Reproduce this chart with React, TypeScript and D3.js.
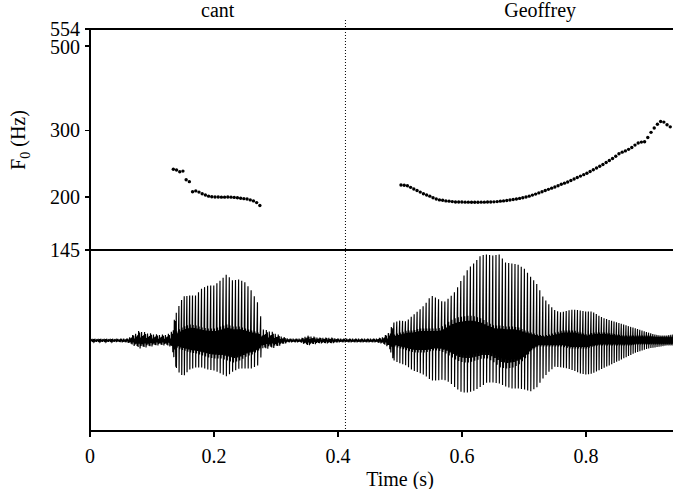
import React from 'react';
import * as d3 from 'd3';

// ---------- data ----------
const F0_TICKS = [145, 200, 300, 500, 554];
const TIME_TICKS = [0, 0.2, 0.4, 0.6, 0.8];
const TOTAL_DUR = 1.04;
const WORD_LABELS = ['cant', 'Geoffrey'];
const WORD_BOUNDS = [0, 0.412, 1.04];

const PITCH_STEP = 0.00517;
const CANT_F0_START = 0.1344;
const CANT_F0 = [236.6, 235.5, 233, 234, 222, 219.5, 206.5, 207.5, 206, 204, 202.5, 201, 200.3, 200, 200, 199.8, 199.8, 200, 199.8, 199.5, 199, 198.5, 198, 197.5, 196.5, 195.3, 193.3, 190];
const GEOFF_F0_START = 0.5016;
const GEOFF_F0 = [
  215, 214.7, 214, 212, 210, 208, 206, 204, 202.5, 201,
  199, 197.6, 196.5, 196, 195.3, 195, 194.5, 194, 194, 194,
  193.8, 193.8, 193.7, 193.7, 193.7, 193.8, 193.8, 194, 194, 194.2,
  194.5, 195, 195.3, 195.8, 196.3, 197, 197.6, 198.3, 199, 200,
  201, 202.3, 203.5, 205, 206.4, 208, 209.5, 211, 212.5, 214,
  216, 217.5, 219, 221, 223, 225, 227, 229, 231, 233.5,
  236, 238.5, 241, 243.5, 246.5, 249.5, 252.5, 256, 260, 262.5,
  264.5, 267, 270, 274, 277.5, 279, 279.5, 287, 296, 304,
  311, 316, 315, 310, 306,
];

// waveform envelope, sampled every 10 ms from 0 s
const ENV_STEP = 0.01;
const WAVE_TOP = [
  0.015, 0.015, 0.015, 0.015, 0.015, 0.02, 0.02, 0.06, 0.10, 0.08,
  0.07, 0.06, 0.06, 0.07, 0.30, 0.44, 0.45, 0.45, 0.52, 0.55,
  0.55, 0.60, 0.66, 0.60, 0.61, 0.58, 0.50, 0.38, 0.11, 0.10,
  0.07, 0.04, 0.02, 0.02, 0.02, 0.05, 0.04, 0.03, 0.03, 0.03,
  0.02, 0.02, 0.02, 0.02, 0.02, 0.02, 0.02, 0.03, 0.07, 0.18,
  0.20, 0.19, 0.25, 0.30, 0.36, 0.45, 0.42, 0.38, 0.43, 0.50,
  0.62, 0.72, 0.78, 0.85, 0.86, 0.85, 0.86, 0.78, 0.77, 0.76,
  0.72, 0.64, 0.57, 0.44, 0.36, 0.30, 0.28, 0.30, 0.31, 0.30,
  0.29, 0.29, 0.25, 0.22, 0.20, 0.18, 0.16, 0.14, 0.12, 0.10,
  0.08, 0.06, 0.05, 0.05, 0.06,
];
const WAVE_BOTTOM = [
  0.015, 0.015, 0.015, 0.015, 0.015, 0.02, 0.02, 0.05, 0.08, 0.07,
  0.06, 0.05, 0.05, 0.06, 0.30, 0.36, 0.29, 0.27, 0.27, 0.29,
  0.30, 0.33, 0.36, 0.31, 0.28, 0.28, 0.28, 0.25, 0.09, 0.08,
  0.07, 0.04, 0.02, 0.02, 0.02, 0.05, 0.04, 0.03, 0.03, 0.03,
  0.02, 0.02, 0.02, 0.02, 0.02, 0.02, 0.02, 0.03, 0.06, 0.20,
  0.23, 0.25, 0.30, 0.32, 0.35, 0.40, 0.40, 0.39, 0.42, 0.48,
  0.52, 0.52, 0.50, 0.46, 0.42, 0.42, 0.43, 0.46, 0.48, 0.48,
  0.49, 0.51, 0.47, 0.38, 0.31, 0.26, 0.27, 0.28, 0.30, 0.33,
  0.34, 0.33, 0.30, 0.27, 0.24, 0.21, 0.18, 0.15, 0.12, 0.10,
  0.08, 0.07, 0.06, 0.05, 0.05,
];
const CORE_TOP = [
  0, 0, 0, 0, 0, 0, 0, 0, 0, 0,
  0, 0, 0, 0, 0.10, 0.14, 0.16, 0.15, 0.13, 0.12,
  0.12, 0.14, 0.16, 0.14, 0.14, 0.12, 0.10, 0.08, 0, 0,
  0, 0, 0, 0, 0, 0, 0, 0, 0, 0,
  0, 0, 0, 0, 0, 0, 0, 0, 0, 0.06,
  0.08, 0.10, 0.10, 0.12, 0.12, 0.12, 0.12, 0.15, 0.20, 0.23,
  0.24, 0.25, 0.24, 0.22, 0.18, 0.15, 0.15, 0.14, 0.14, 0.13,
  0.10, 0.08, 0.06, 0.05, 0.06, 0.08, 0.10, 0.10, 0.10, 0.08,
  0.06, 0.08, 0.08, 0.08, 0.07, 0.06, 0.05, 0.05, 0.05, 0.05,
  0.05, 0.04, 0.04, 0.04, 0.04,
];
const CORE_BOTTOM = [
  0, 0, 0, 0, 0, 0, 0, 0, 0, 0,
  0, 0, 0, 0, 0.08, 0.10, 0.12, 0.13, 0.15, 0.17,
  0.18, 0.18, 0.20, 0.22, 0.20, 0.16, 0.14, 0.10, 0, 0,
  0, 0, 0, 0, 0, 0, 0, 0, 0, 0,
  0, 0, 0, 0, 0, 0, 0, 0, 0, 0.06,
  0.08, 0.10, 0.12, 0.12, 0.12, 0.10, 0.10, 0.12, 0.16, 0.20,
  0.22, 0.22, 0.20, 0.18, 0.18, 0.22, 0.27, 0.28, 0.27, 0.24,
  0.18, 0.10, 0.06, 0.06, 0.06, 0.06, 0.06, 0.08, 0.08, 0.08,
  0.08, 0.06, 0.05, 0.05, 0.05, 0.05, 0.05, 0.05, 0.04, 0.04,
  0.04, 0.04, 0.04, 0.04, 0.04,
];
const CANT_VOICED = [0.139, 0.278];
const GEOFF_VOICED = [0.490, 0.945];
const NOISE_SHAPE = [0.6, -0.9, 1, -0.4, 0.8, -1, 0.3, -0.7, 0.9, -0.5, 0.5, -0.8];

// ---------- layout ----------
const W = 673;
const H = 489;
const LEFT = 90;
const TOP = 29;
const MID = 250;
const BOTTOM = 431;
const FONT = '"Liberation Serif", "DejaVu Serif", "Times New Roman", serif';

function env(arr: number[], t: number) {
  const p = t / ENV_STEP;
  const i0 = Math.max(0, Math.min(arr.length - 1, Math.floor(p)));
  const i1 = Math.min(arr.length - 1, i0 + 1);
  const f = Math.max(0, Math.min(1, p - i0));
  return arr[i0] * (1 - f) + arr[i1] * f;
}

function buildWave() {
  const pts: [number, number][] = [];
  let k = 0;
  const noise = (t0: number, t1: number) => {
    for (let t = t0; t < t1; t += 0.0008, k++) {
      const m = NOISE_SHAPE[k % NOISE_SHAPE.length];
      pts.push([t, m > 0 ? m * env(WAVE_TOP, t) : m * env(WAVE_BOTTOM, t)]);
    }
  };
  const voiced = (t0: number, t1: number, fStart: number, f0: number[]) => {
    let t = t0;
    while (t < t1) {
      const i = Math.max(0, Math.min(f0.length - 1, Math.round((t - fStart) / PITCH_STEP)));
      const P = 1 / f0[i];
      const top = env(WAVE_TOP, t), bot = env(WAVE_BOTTOM, t);
      const ct = env(CORE_TOP, t), cb = env(CORE_BOTTOM, t);
      pts.push(
        [t + 0.04 * P, top],
        [t + 0.1 * P, -bot],
        [t + 0.25 * P, ct],
        [t + 0.4 * P, -cb],
        [t + 0.55 * P, 0.8 * ct],
        [t + 0.7 * P, -0.8 * cb],
        [t + 0.85 * P, 0.5 * ct],
      );
      t += P;
    }
  };
  noise(0, CANT_VOICED[0]);
  voiced(CANT_VOICED[0], CANT_VOICED[1], CANT_F0_START, CANT_F0);
  noise(CANT_VOICED[1], GEOFF_VOICED[0]);
  voiced(GEOFF_VOICED[0], GEOFF_VOICED[1], GEOFF_F0_START, GEOFF_F0);
  return pts;
}

export default function App() {
  const x = d3.scaleLinear().domain([0, TOTAL_DUR]).range([LEFT, LEFT + 620 * TOTAL_DUR]);
  const yF = d3.scaleLog().domain([145, 554]).range([MID, TOP]);
  const yW = d3.scaleLinear().domain([-0.905, 0.905]).range([BOTTOM, MID]);

  const wave = buildWave();
  const line = d3.line<[number, number]>().x(d => x(d[0])).y(d => yW(d[1]));
  const pitchPts = [
    ...CANT_F0.map((f, i) => ({ t: CANT_F0_START + i * PITCH_STEP, f })),
    ...GEOFF_F0.map((f, i) => ({ t: GEOFF_F0_START + i * PITCH_STEP, f })),
  ];
  const textStyle = { fontFamily: FONT, fontSize: '20px' };

  return (
    <svg width={W} height={H} style={{ position: 'absolute', left: 0, top: 0, background: '#fff' }}>
      <defs>
        <clipPath id="plotclip">
          <rect x={LEFT} y={MID} width={W - LEFT} height={BOTTOM - MID} />
        </clipPath>
      </defs>
      {/* waveform */}
      <path d={line(wave) || ''} fill="none" stroke="#000" strokeWidth={1.15} clipPath="url(#plotclip)" />
      {/* word boundary */}
      <line x1={x(WORD_BOUNDS[1])} x2={x(WORD_BOUNDS[1])} y1={20} y2={BOTTOM} stroke="#000" strokeWidth={1} strokeDasharray="1 2" />
      {/* frame lines */}
      <g stroke="#000" strokeWidth={1.2} shapeRendering="crispEdges">
        <line x1={LEFT - 5} x2={W} y1={yF(554)} y2={yF(554)} />
        <line x1={LEFT - 5} x2={W} y1={yF(145)} y2={yF(145)} />
        <line x1={LEFT} x2={W} y1={BOTTOM} y2={BOTTOM} />
        <line x1={LEFT} x2={LEFT} y1={TOP} y2={BOTTOM} />
        {F0_TICKS.map(v => (
          <line key={v} x1={LEFT - 5} x2={LEFT} y1={yF(v)} y2={yF(v)} />
        ))}
        {TIME_TICKS.map(v => (
          <line key={v} x1={x(v)} x2={x(v)} y1={BOTTOM} y2={BOTTOM + 6} />
        ))}
      </g>
      {/* pitch dots */}
      {pitchPts.map((p, i) => (
        <circle key={i} cx={x(p.t)} cy={yF(p.f)} r={1.7} fill="#000" />
      ))}
      {/* tick labels */}
      <g fill="#000">
        {F0_TICKS.map(v => (
          <text key={v} style={textStyle} x={LEFT - 10} y={yF(v) + 7 + (v === 500 ? 1 : 0)} textAnchor="end">{v}</text>
        ))}
        {TIME_TICKS.map(v => (
          <text key={v} style={textStyle} x={x(v)} y={463} textAnchor="middle">{v === 0 ? '0' : d3.format('.1f')(v)}</text>
        ))}
        <text style={textStyle} x={x(0.5)} y={486} textAnchor="middle">Time (s)</text>
        {WORD_LABELS.map((w, i) => (
          <text key={w} style={textStyle} x={x((WORD_BOUNDS[i] + WORD_BOUNDS[i + 1]) / 2)} y={17} textAnchor="middle">{w}</text>
        ))}
        <text style={textStyle} transform="translate(25,140) rotate(-90)" textAnchor="middle">
          F<tspan style={{ fontSize: '14px' }} dy={5}>0</tspan><tspan dy={-5}> (Hz)</tspan>
        </text>
      </g>
    </svg>
  );
}
